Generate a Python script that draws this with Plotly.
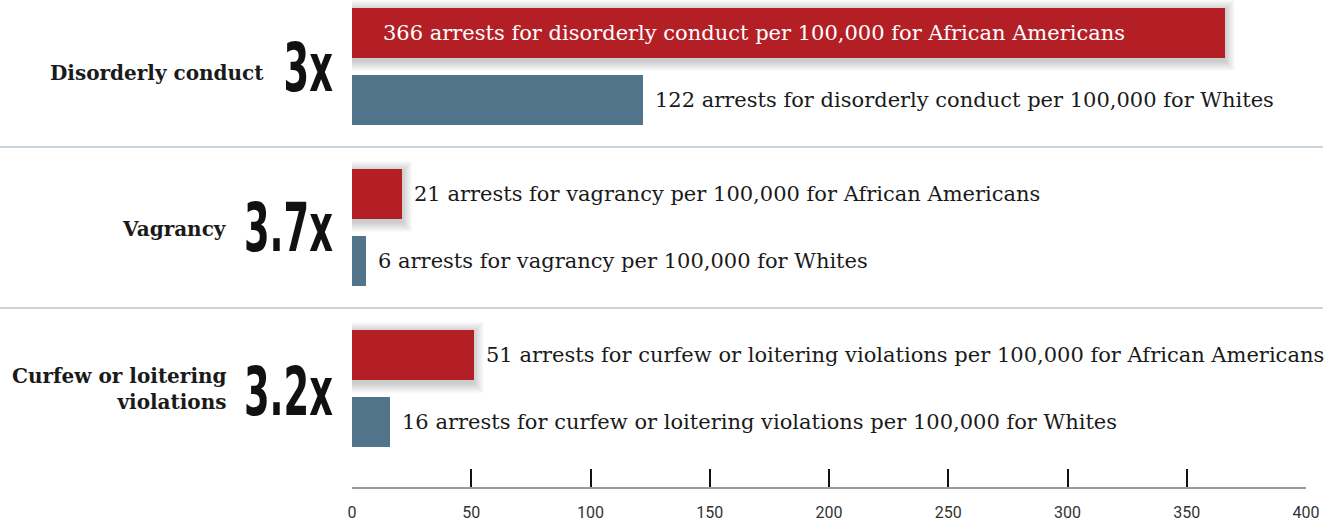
import plotly.graph_objects as go

# ---------------- data ----------------
categories = ["Disorderly conduct", "Vagrancy", "Curfew or loitering<br>violations"]
crimes = ["disorderly conduct", "vagrancy", "curfew or loitering violations"]
black_rates = [366, 21, 51]
white_rates = [122, 6, 16]
ratios = ["3x", "3.7x", "3.2x"]
x_ticks = [0, 50, 100, 150, 200, 250, 300, 350, 400]
tick_marks = [50, 100, 150, 200, 250, 300, 350, 400]

# ---------------- style ----------------
RED = "#B41F26"
BLUE = "#52748A"
TEXT = "#1a1a1a"
SERIF = "DejaVu Serif, Liberation Serif, serif"
BIG = "DejaVu Sans, sans-serif"

W, H = 1335, 522
ML, MR, MT, MB = 352, 29, 0, 35
PLOT_H = H - MT - MB           # y axis in pixel-like units
PLOT_W = W - ML - MR
X_MAX = 400
PX_X = X_MAX / PLOT_W           # data units per pixel in x

PITCH, FIRST, GAP, BAR_H = 161, 33, 67, 50
red_y = [FIRST + PITCH * i for i in range(len(categories))]
blue_y = [y + GAP for y in red_y]
group_c = [(r + b) / 2 for r, b in zip(red_y, blue_y)]
label_right = [266, 229, 229]   # right edge (px) of category labels
label_dy = [6, 1, 0]            # small vertical nudges of category labels
mult_dy = [1, 0, 3]             # small vertical nudges of multipliers
mult_right = 335                # right edge (px) of multiplier

fig = go.Figure()
fig.add_trace(go.Bar(x=black_rates, y=red_y, orientation="h", width=BAR_H,
                     marker=dict(color=RED, line_width=0),
                     name="African Americans", hoverinfo="x"))
fig.add_trace(go.Bar(x=white_rates, y=blue_y, orientation="h", width=BAR_H,
                     marker=dict(color=BLUE, line_width=0),
                     name="Whites", hoverinfo="x"))
# invisible trace carrying the tick-mark axis
fig.add_trace(go.Scatter(x=[0, X_MAX], y=[PLOT_H, PLOT_H], xaxis="x2",
                         mode="markers", marker=dict(opacity=0),
                         showlegend=False, hoverinfo="skip"))

shapes = []
# soft drop shadow behind red bars
for v, y in zip(black_rates, red_y):
    for k in range(1, 11):
        shapes.append(dict(type="rect", xref="x", yref="y", layer="below",
                           x0=-k * PX_X, x1=v + k * PX_X,
                           y0=y - BAR_H / 2 - k + 2, y1=y + BAR_H / 2 + k + 3,
                           fillcolor="rgba(0,0,0,0.018)", line_width=0))
# separators between groups
for i in range(len(categories) - 1):
    ys = (blue_y[i] + BAR_H / 2 + red_y[i + 1] - BAR_H / 2) / 2
    shapes.append(dict(type="line", xref="paper", yref="y",
                       x0=-ML / PLOT_W, x1=(1323 - ML) / PLOT_W, y0=ys, y1=ys,
                       line=dict(color="#B9C6D2", width=1.5)))

annotations = []
races = [("African Americans", black_rates, red_y), ("Whites", white_rates, blue_y)]
for race, vals, ys in races:
    for crime, v, y in zip(crimes, vals, ys):
        txt = f"{v} arrests for {crime} per 100,000 for {race}"
        inside = v > 300
        annotations.append(dict(
            x=0 if inside else v, y=y, xref="x", yref="y",
            xanchor="left", yanchor="middle", showarrow=False,
            xshift=29 if inside else 10, text=txt,
            font=dict(family=SERIF, size=21, color="white" if inside else TEXT)))

for cat, r, yc, lr, ldy, mdy in zip(categories, ratios, group_c, label_right,
                                    label_dy, mult_dy):
    annotations.append(dict(
        x=0, y=yc + ldy, xref="paper", yref="y", xanchor="right", yanchor="middle",
        xshift=lr - ML, showarrow=False, align="right", text=f"<b>{cat}</b>",
        font=dict(family=SERIF, size=20, color=TEXT)))
    annotations.append(dict(
        x=0, y=yc + mdy, xref="paper", yref="y", xanchor="right", yanchor="middle",
        xshift=mult_right - ML, showarrow=False, text=r,
        font=dict(family=BIG, size=67, color="#111111", weight="bold")))

fig.update_layout(
    width=W, height=H, margin=dict(l=ML, r=MR, t=MT, b=MB),
    paper_bgcolor="white", plot_bgcolor="white",
    showlegend=False, barmode="overlay", bargap=0,
    shapes=shapes, annotations=annotations,
    xaxis=dict(range=[0, X_MAX], tickvals=x_ticks, ticktext=[str(t) for t in x_ticks],
               ticks="", showline=True, linecolor="#9A9A9A", linewidth=2,
               showgrid=False, zeroline=False, ticklabelstandoff=10,
               tickfont=dict(family="Roboto, sans-serif", size=16, color="#333333")),
    xaxis2=dict(range=[0, X_MAX], overlaying="x", anchor="y", side="bottom",
                tickvals=tick_marks, ticks="inside", ticklen=18, tickwidth=1.5,
                tickcolor="#111111", showticklabels=False, showgrid=False,
                zeroline=False, showline=False),
    yaxis=dict(range=[PLOT_H, 0], visible=False, showgrid=False, zeroline=False),
)

# remove page margin; squeeze the big multiplier numerals horizontally
post = """
document.body.style.margin = '0';
function squeeze() {
  document.querySelectorAll('.annotation-text').forEach(function (el) {
    if (/^\\d(\\.\\d)?x$/.test(el.textContent.trim())) {
      el.style.transformBox = 'fill-box';
      el.style.transformOrigin = 'right center';
      el.style.transform = 'scaleX(0.55)';
    }
  });
}
squeeze();
var gd = document.getElementById('{plot_id}');
if (gd && gd.on) { gd.on('plotly_afterplot', squeeze); }
"""
fig.write_html("out.html", post_script=post, config={"displayModeBar": False})
